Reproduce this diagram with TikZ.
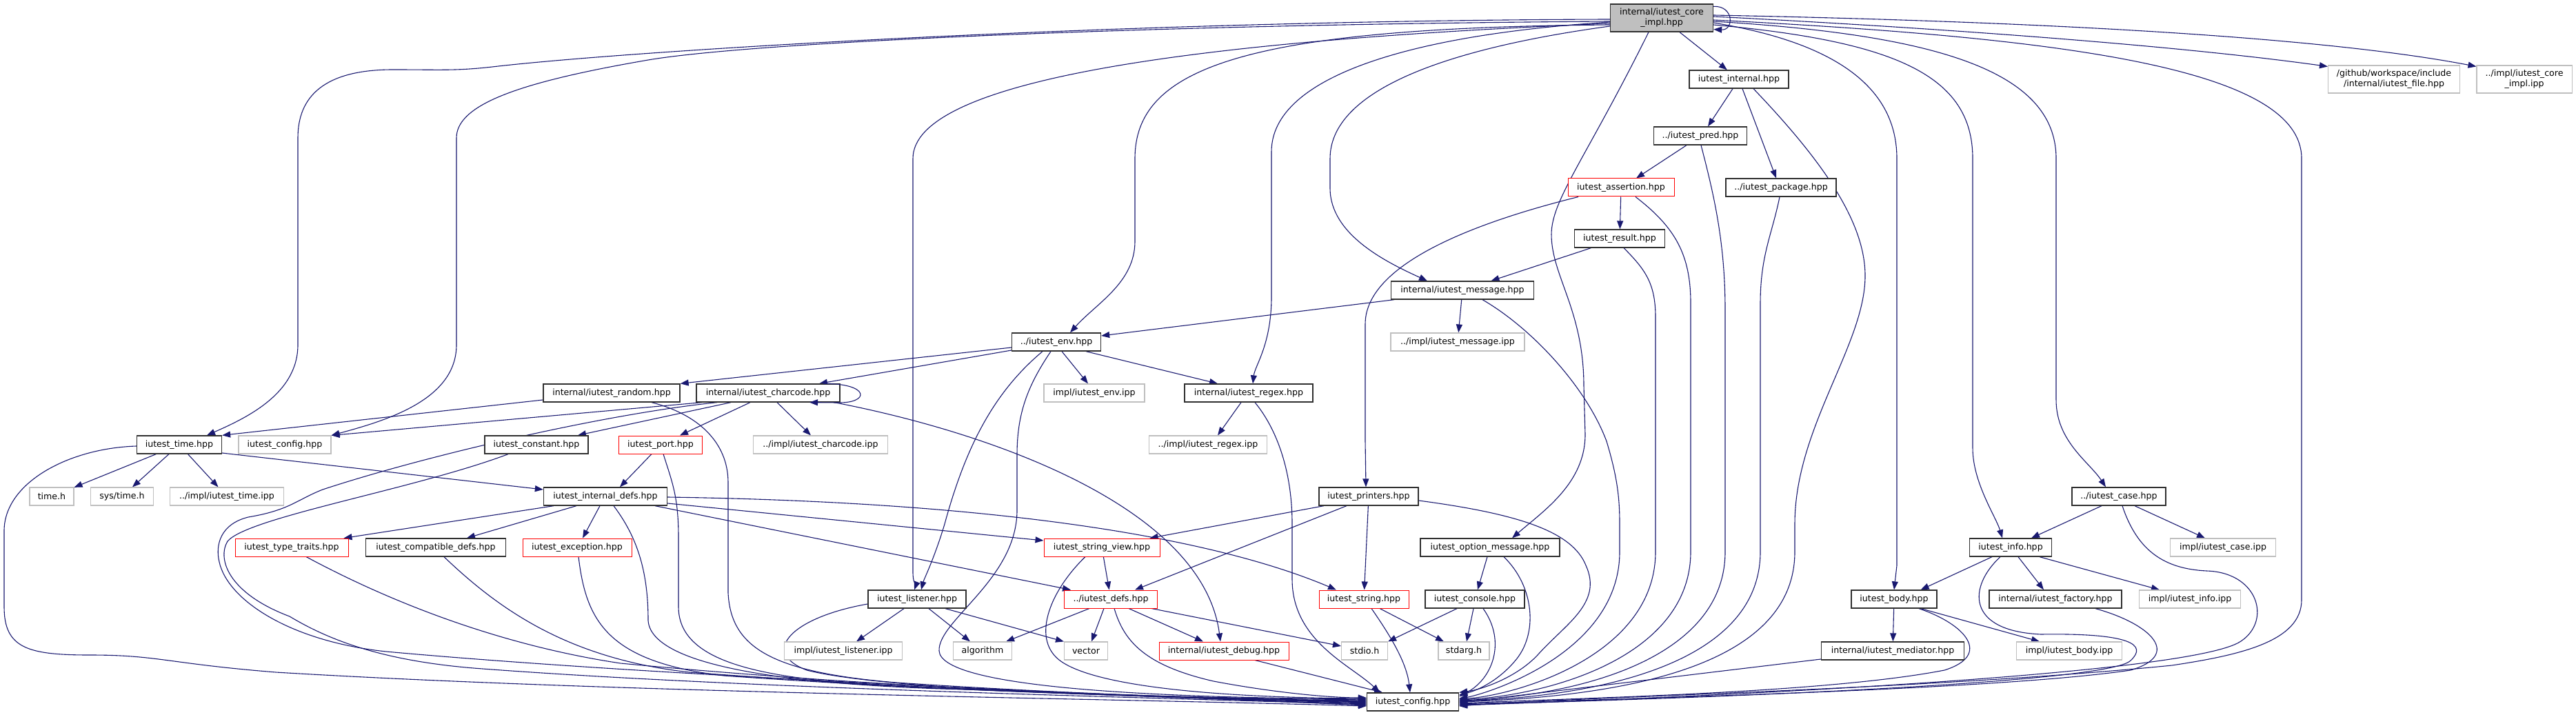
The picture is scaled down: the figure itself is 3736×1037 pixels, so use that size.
\documentclass[tikz,border=0pt]{standalone}
\usepackage{fontspec}
\newfontfamily\dv{DejaVu Sans}
\usetikzlibrary{arrows.meta,backgrounds}
\definecolor{edgeblue}{HTML}{191970}
\definecolor{dgray}{HTML}{303030}
\definecolor{lgray}{HTML}{BFBFBF}
\begin{document}
\begin{tikzpicture}[x=0.5pt,y=-0.5pt,
 nb/.style={draw=dgray,fill=white,line width=0.65pt,inner sep=0pt,minimum height=13pt,font=\dv\fontsize{6.3}{7.6}\selectfont},
 ng/.style={nb,draw=lgray,line width=0.55pt},
 nr/.style={nb,draw=red,line width=0.5pt},
 e/.style={draw=edgeblue,line width=0.55pt,-{Triangle[length=6pt,width=4.5pt]}}]
\useasboundingbox (0,0) rectangle (3736,1037);
% nodes
\node[nb,fill=lgray,minimum width=74.5pt,minimum height=20pt,align=center] (root) at (2410,26) {internal/iutest\_core\\\_impl.hpp};
\node[nb,minimum width=72pt] (internal) at (2522,115) {iutest\_internal.hpp};
\node[nb,minimum width=67.5pt] (pred) at (2466,197) {../iutest\_pred.hpp};
\node[nr,minimum width=77pt] (assertion) at (2351,272) {iutest\_assertion.hpp};
\node[nb,minimum width=80pt] (package) at (2583,272) {../iutest\_package.hpp};
\node[nb,minimum width=65.5pt] (result) at (2349,346) {iutest\_result.hpp};
\node[nb,minimum width=103.5pt] (message) at (2121,421) {internal/iutest\_message.hpp};
\node[ng,minimum width=97pt] (messageipp) at (2114,496) {../impl/iutest\_message.ipp};
\node[ng,minimum width=95.5pt,minimum height=20pt,align=center] (fileh) at (3472,115) {/github/workspace/include\\/internal/iutest\_file.hpp};
\node[ng,minimum width=69pt,minimum height=20pt,align=center] (coreipp) at (3661,115) {../impl/iutest\_core\\\_impl.ipp};
\node[nb,minimum width=64.5pt] (env) at (1532,496) {../iutest\_env.hpp};
\node[nb,minimum width=99pt] (random) at (887,570) {internal/iutest\_random.hpp};
\node[nb,minimum width=104pt] (charcode) at (1114,570) {internal/iutest\_charcode.hpp};
\node[ng,minimum width=73pt] (envipp) at (1587,570) {impl/iutest\_env.ipp};
\node[nb,minimum width=93pt] (regex) at (1811,570) {internal/iutest\_regex.hpp};
\node[nb,minimum width=61.5pt] (time) at (260,645) {iutest\_time.hpp};
\node[ng,minimum width=67pt] (configmid) at (413,645) {iutest\_config.hpp};
\node[nb,minimum width=75pt] (constant) at (778,645) {iutest\_constant.hpp};
\node[nr,minimum width=60.5pt] (port) at (958,645) {iutest\_port.hpp};
\node[ng,minimum width=97.5pt] (charcodeipp) at (1190,645) {../impl/iutest\_charcode.ipp};
\node[ng,minimum width=85.5pt] (regexipp) at (1752,645) {../impl/iutest\_regex.ipp};
\node[ng,minimum width=32pt] (timeh) at (75,720) {time.h};
\node[ng,minimum width=45.5pt] (systime) at (177,720) {sys/time.h};
\node[ng,minimum width=82.5pt] (timeipp) at (329,720) {../impl/iutest\_time.ipp};
\node[nb,minimum width=89.5pt] (idefs) at (878,720) {iutest\_internal\_defs.hpp};
\node[nb,minimum width=72pt] (printers) at (1985,720) {iutest\_printers.hpp};
\node[nb,minimum width=68pt] (case) at (3073,720) {../iutest\_case.hpp};
\node[nr,minimum width=82pt] (traits) at (423,794) {iutest\_type\_traits.hpp};
\node[nb,minimum width=101.5pt] (compat) at (632,794) {iutest\_compatible\_defs.hpp};
\node[nr,minimum width=79pt] (exception) at (837,794) {iutest\_exception.hpp};
\node[nr,minimum width=84pt] (strview) at (1598,794) {iutest\_string\_view.hpp};
\node[nb,minimum width=101pt] (optmsg) at (2161,794) {iutest\_option\_message.hpp};
\node[nb,minimum width=59.5pt] (info) at (2916,794) {iutest\_info.hpp};
\node[ng,minimum width=76.5pt] (caseipp) at (3224,794) {impl/iutest\_case.ipp};
\node[nb,minimum width=71pt] (listener) at (1330,869) {iutest\_listener.hpp};
\node[nr,minimum width=67.5pt] (defs) at (1611,869) {../iutest\_defs.hpp};
\node[nr,minimum width=65pt] (string) at (1978,869) {iutest\_string.hpp};
\node[nb,minimum width=72pt] (console) at (2139,869) {iutest\_console.hpp};
\node[nb,minimum width=62pt] (body) at (2747,869) {iutest\_body.hpp};
\node[nb,minimum width=96pt] (factory) at (2981,869) {internal/iutest\_factory.hpp};
\node[ng,minimum width=73.5pt] (infoipp) at (3176,869) {impl/iutest\_info.ipp};
\node[ng,minimum width=85.5pt] (listenipp) at (1223,944) {impl/iutest\_listener.ipp};
\node[ng,minimum width=42.5pt] (algorithm) at (1425,944) {algorithm};
\node[ng,minimum width=31.5pt] (vector) at (1575,944) {vector};
\node[nr,minimum width=94pt] (debug) at (1775,944) {internal/iutest\_debug.hpp};
\node[ng,minimum width=33.5pt] (stdio) at (1979,944) {stdio.h};
\node[ng,minimum width=37pt] (stdarg) at (2123,944) {stdarg.h};
\node[nb,minimum width=103.5pt] (mediator) at (2745,944) {internal/iutest\_mediator.hpp};
\node[ng,minimum width=76.5pt] (bodyipp) at (3001,944) {impl/iutest\_body.ipp};
\node[nb,minimum width=66.5pt] (config) at (2049,1018) {iutest\_config.hpp};

\begin{pgfonlayer}{background}
% root
\draw[e] (root) -- (internal);
\draw[e] ([yshift=-1pt]root.west) .. controls (1600,30) and (900,75) .. (714,97) .. controls (660,103) and (640,101) .. (570,101) .. controls (470,101) and (432,140) .. (432,200) -- (432,500) .. controls (432,570) and (360,605) .. ([xshift=20pt]time.north);
\draw[e] ([yshift=-2.5pt]root.west) .. controls (1700,35) and (1100,60) .. (940,87) .. controls (760,118) and (662,150) .. (662,200) -- (662,500) .. controls (662,580) and (560,610) .. (configmid.north east);
\draw[e] ([yshift=-4pt]root.west) .. controls (1700,60) and (1324,120) .. (1324,230) -- (1324,830) .. controls (1324,845) and (1328,850) .. ([xshift=-2pt]listener.north);
\draw[e] ([yshift=-5pt]root.west) .. controls (1800,40) and (1646,100) .. (1646,230) -- (1646,350) .. controls (1646,410) and (1590,440) .. ([xshift=10pt]env.north);
\draw[e] ([yshift=-3pt]root.west) .. controls (2050,50) and (1844,110) .. (1844,220) -- (1844,430) .. controls (1844,500) and (1820,530) .. ([xshift=3pt]regex.north);
\draw[e] ([yshift=-6pt]root.west) .. controls (2100,70) and (1929,130) .. (1929,230) -- (1929,273) .. controls (1929,340) and (2010,380) .. ([xshift=-25.5pt]message.north);
\draw[e] ([xshift=-9.5pt]root.south) .. controls (2300,230) and (2250,290) .. (2250,340) .. controls (2250,400) and (2297,450) .. (2297,560) -- (2299,630) .. controls (2299,700) and (2240,740) .. ([xshift=16pt]optmsg.north);
\draw[e] ([yshift=-3.5pt]root.east) .. controls (2650,60) and (2751,120) .. (2751,230) -- (2751,820) -- (body.north);
\draw[e] ([yshift=-5pt]root.east) .. controls (2750,60) and (2861,110) .. (2861,230) -- (2861,650) .. controls (2861,700) and (2895,750) .. ([xshift=-6pt]info.north);
\draw[e] ([yshift=-2.5pt]root.east) .. controls (2800,50) and (2982,100) .. (2982,230) -- (2982,580) .. controls (2982,640) and (3030,670) .. ([xshift=-9.5pt]case.north);
\draw[e] ([yshift=-1.5pt]root.east) .. controls (3000,55) and (3338,100) .. (3338,230) -- (3338,870) .. controls (3338,930) and (3250,950) .. (3150,965) .. controls (2800,1000) and (2300,1010) .. ([yshift=-3pt]config.east);
\draw[e] ([yshift=1pt]root.east) .. controls (2800,40) and (3150,65) .. ([yshift=-1pt]fileh.north west);
\draw[e] ([yshift=2pt]root.east) .. controls (2900,30) and (3350,50) .. ([yshift=-1pt]coreipp.north west);
% internal group
\draw[e] ([xshift=-4.5pt]internal.south) -- ([xshift=5.5pt]pred.north);
\draw[e] ([xshift=2.5pt]internal.south) -- ([xshift=-3.5pt]package.north);
\draw[e] ([xshift=10.5pt]internal.south) .. controls (2640,230) and (2705,320) .. (2705,400) .. controls (2705,500) and (2603,620) .. (2603,760) -- (2603,800) .. controls (2603,950) and (2403,1008) .. ([yshift=0pt]config.east);
\draw[e] ([xshift=-10pt]pred.south) -- ([xshift=11pt]assertion.north);
\draw[e] ([xshift=0.5pt]pred.south) .. controls (2485,280) and (2502,350) .. (2502,450) -- (2502,800) .. controls (2502,950) and (2302,1008) .. ([yshift=1pt]config.east);
\draw[e] (assertion) -- (result);
\draw[e] ([xshift=-31pt]assertion.south) .. controls (2150,320) and (1980,380) .. (1980,470) -- (1980,640) -- ([xshift=-2pt]printers.north);
\draw[e] ([xshift=10.5pt]assertion.south) .. controls (2430,330) and (2452,370) .. (2452,440) -- (2452,800) .. controls (2452,950) and (2252,1008) .. ([yshift=1.5pt]config.east);
\draw[e] ([xshift=-1pt]package.south) .. controls (2570,340) and (2553,370) .. (2553,440) -- (2553,800) .. controls (2553,950) and (2353,1008) .. ([yshift=0.5pt]config.east);
\draw[e] ([xshift=3pt]result.south) .. controls (2385,390) and (2401,410) .. (2401,460) -- (2401,800) .. controls (2401,950) and (2201,1008) .. ([yshift=2pt]config.east);
\draw[e] (result) -- (message);
% message
\draw[e] (message) -- (messageipp);
\draw[e] ([xshift=-49.5pt]message.south) -- ([yshift=4.5pt]env.east);
\draw[e] ([xshift=14.5pt]message.south) .. controls (2220,475) and (2300,560) .. (2330,640) .. controls (2345,690) and (2349,720) .. (2349,760) -- (2349,800) .. controls (2349,950) and (2149,1008) .. ([yshift=2.5pt]config.east);
% env
\draw[e] ([yshift=-4pt]env.west) -- (random.north east);
\draw[e] ([yshift=-6pt]env.west) -- ([xshift=37pt]charcode.north);
\draw[e] ([xshift=4pt]env.south) -- ([xshift=-4.5pt]envipp.north);
\draw[e] ([xshift=21.5pt]env.south) -- ([xshift=-22.5pt]regex.north);
\draw[e] ([xshift=-10pt]env.south) .. controls (1440,570) and (1400,650) .. (1370,760) .. controls (1355,810) and (1340,840) .. ([xshift=3pt]listener.north);
\draw[e] ([xshift=-4pt]env.south) .. controls (1490,560) and (1475,600) .. (1475,660) -- (1475,740) .. controls (1475,840) and (1360,900) .. (1362,944) .. controls (1365,1000) and (1700,1012) .. ([yshift=2pt]config.west);
% random
\draw[e] ([yshift=-5pt]random.west) -- (time.north east);
\draw[e] ([xshift=29pt]random.south) .. controls (1010,600) and (1056,640) .. (1056,700) -- (1056,860) .. controls (1060,940) and (1120,975) .. (1300,990) .. controls (1600,1010) and (1850,1015) .. ([yshift=0.5pt]config.west);
% charcode
\draw[e] ([xshift=-48pt]charcode.south) -- (configmid.north east);
\draw[e] ([xshift=-37pt]charcode.south) .. controls (880,600) and (620,660) .. (468,710) .. controls (430,725) and (420,740) .. (360,750) .. controls (320,760) and (312,790) .. (318,815) .. controls (330,870) and (420,930) .. (560,945) .. controls (1000,985) and (1700,1010) .. ([yshift=-2.5pt]config.west);
\draw[e] ([xshift=-27pt]charcode.south) -- ([xshift=30pt]constant.north);
\draw[e] ([xshift=-13pt]charcode.south) -- ([xshift=14pt]port.north);
\draw[e] ([xshift=6.5pt]charcode.south) -- ([xshift=-7pt]charcodeipp.north);
\draw[e] ([xshift=48pt]charcode.south) .. controls (1450,630) and (1745,740) .. ([xshift=-2.5pt]debug.north);
% constant, port
\draw[e] ([xshift=-20.5pt]constant.south) .. controls (600,710) and (360,750) .. (330,785) .. controls (315,810) and (330,860) .. (420,894) .. controls (480,930) and (560,960) .. (700,970) .. controls (1100,1000) and (1700,1012) .. ([yshift=-2pt]config.west);
\draw[e] ([xshift=-6.5pt]port.south) -- ([xshift=10.5pt]idefs.north);
\draw[e] ([xshift=2pt]port.south) .. controls (975,700) and (984,720) .. (984,780) -- (984,880) .. controls (984,960) and (1100,985) .. (1300,995) .. controls (1600,1010) and (1850,1015) .. ([yshift=1pt]config.west);
% time
\draw[e] (time) -- (timeh);
\draw[e] (time) -- (systime);
\draw[e] (time) -- (timeipp);
\draw[e] ([yshift=-6pt]time.east) -- ([yshift=5pt]idefs.west);
\draw[e] ([yshift=-1pt]time.west) .. controls (100,650) and (6,700) .. (6,770) -- (6,880) .. controls (6,940) and (40,950) .. (130,950) .. controls (230,950) and (240,962) .. (400,975) .. controls (900,1005) and (1600,1013) .. ([yshift=-3pt]config.west);
% idefs
\draw[e] ([xshift=-37.5pt]idefs.south) -- ([xshift=-3.5pt]traits.north east);
\draw[e] ([xshift=-21pt]idefs.south) -- ([xshift=22.5pt]compat.north);
\draw[e] ([xshift=-4pt]idefs.south) -- ([xshift=4pt]exception.north);
\draw[e] ([xshift=6pt]idefs.south) .. controls (925,780) and (940,830) .. (940,900) .. controls (945,975) and (1200,995) .. (1400,1000) .. controls (1700,1010) and (1850,1015) .. ([yshift=0pt]config.west);
\draw[e] ([yshift=-5pt]idefs.east) -- ([yshift=5pt]strview.west);
\draw[e] ([xshift=36pt]idefs.south) -- ([xshift=-29pt]defs.north);
\draw[e] ([yshift=-0.5pt]idefs.east) .. controls (1450,728) and (1760,780) .. ([xshift=-20pt]string.north);
\draw[e] ([xshift=10.5pt]traits.south) .. controls (560,870) and (720,935) .. (900,962) .. controls (1300,1000) and (1700,1012) .. ([yshift=-1.5pt]config.west);
\draw[e] ([xshift=6pt]compat.south) .. controls (720,880) and (820,955) .. (1000,975) .. controls (1400,1005) and (1750,1012) .. ([yshift=-1pt]config.west);
\draw[e] ([xshift=1pt]exception.south) .. controls (850,900) and (880,960) .. (1050,980) .. controls (1400,1005) and (1750,1012) .. ([yshift=-0.5pt]config.west);
% strview
\draw[e] (strview) -- (defs);
\draw[e] ([xshift=-12pt]strview.south) .. controls (1520,860) and (1495,930) .. (1540,960) .. controls (1600,1000) and (1800,1012) .. ([yshift=2.5pt]config.west);
% listener
\draw[e] ([xshift=-9.5pt]listener.south) -- ([xshift=9.5pt]listenipp.north);
\draw[e] ([xshift=8.5pt]listener.south) -- ([xshift=-9pt]algorithm.north);
\draw[e] ([xshift=20.5pt]listener.south) -- (vector.north west);
\draw[e] ([yshift=-3.5pt]listener.west) .. controls (1150,895) and (1100,945) .. (1170,972) .. controls (1300,1005) and (1750,1012) .. ([yshift=1.5pt]config.west);
% defs
\draw[e] ([xshift=-15.5pt]defs.south) -- ([xshift=-4.5pt]algorithm.north east);
\draw[e] ([xshift=-5pt]defs.south) -- ([xshift=4pt]vector.north);
\draw[e] ([xshift=13pt]defs.south) -- ([xshift=-15pt]debug.north);
\draw[e] ([xshift=29.5pt]defs.south) -- ([yshift=3.5pt]stdio.west);
\draw[e] ([xshift=2.5pt]defs.south) .. controls (1630,930) and (1660,965) .. (1760,988) .. controls (1850,1005) and (1930,1012) .. ([yshift=3pt]config.west);
\draw[e] ([xshift=22.5pt]debug.south) -- ([xshift=-22pt]config.north);
% regex
\draw[e] ([xshift=-5.5pt]regex.south) -- ([xshift=7pt]regexipp.north);
\draw[e] ([xshift=4.5pt]regex.south) .. controls (1850,620) and (1874,680) .. (1874,760) -- (1874,840) .. controls (1874,930) and (1960,965) .. ([xshift=-24pt]config.north);
% printers
\draw[e] ([xshift=-32.5pt]printers.south) -- ([xshift=-7.5pt]strview.north east);
\draw[e] ([xshift=-16pt]printers.south) -- ([xshift=17.5pt]defs.north);
\draw[e] (printers) -- (string);
\draw[e] ([yshift=-3pt]printers.east) .. controls (2200,745) and (2280,770) .. (2300,820) .. controls (2325,875) and (2270,905) .. (2230,950) .. controls (2200,982) and (2150,1000) .. (config.north east);
% string
\draw[e] ([xshift=5.5pt]string.south) .. controls (2015,920) and (2040,960) .. ([xshift=-2pt]config.north);
\draw[e] ([xshift=11.5pt]string.south) -- ([xshift=-14.5pt]stdarg.north);
% option message, console
\draw[e] (optmsg) -- (console);
\draw[e] ([xshift=10pt]optmsg.south) .. controls (2225,850) and (2232,920) .. (2196,960) .. controls (2170,990) and (2140,1002) .. ([yshift=5pt]config.east);
\draw[e] ([xshift=-13pt]console.south) -- (stdio.north east);
\draw[e] ([xshift=-1pt]console.south) -- ([xshift=2pt]stdarg.north);
\draw[e] ([xshift=6pt]console.south) .. controls (2185,930) and (2165,985) .. ([yshift=4pt]config.east);
% body, info, case
\draw[e] (body) -- (mediator);
\draw[e] ([xshift=19.5pt]body.south) -- ([xshift=-21.5pt]bodyipp.north);
\draw[e] ([xshift=18pt]body.south) .. controls (2850,905) and (2890,950) .. (2820,972) .. controls (2650,1005) and (2300,1012) .. ([yshift=-1pt]config.east);
\draw[e] ([xshift=-13.5pt]info.south) -- ([xshift=-12pt]body.north east);
\draw[e] ([xshift=5.5pt]info.south) -- ([xshift=-8.5pt]factory.north);
\draw[e] ([xshift=21pt]info.south) -- ([xshift=-22pt]infoipp.north);
\draw[e] ([xshift=-7.5pt]info.south) .. controls (2855,850) and (2850,915) .. (2960,920) .. controls (3090,918) and (3115,935) .. (3090,958) .. controls (3060,990) and (2500,1012) .. ([yshift=-2pt]config.east);
\draw[e] ([xshift=-12.5pt]case.south) -- ([xshift=15pt]info.north);
\draw[e] ([xshift=11.5pt]case.south) -- ([xshift=-13pt]caseipp.north);
\draw[e] ([xshift=2.5pt]case.south) .. controls (3100,800) and (3140,825) .. (3200,828) .. controls (3275,830) and (3295,900) .. (3250,930) .. controls (3180,978) and (2500,1010) .. ([yshift=-2.5pt]config.east);
\draw[e] ([xshift=29pt]factory.south) .. controls (3120,905) and (3165,950) .. (3090,972) .. controls (2900,1000) and (2400,1012) .. ([yshift=-1.5pt]config.east);
\draw[e] ([yshift=-6pt]mediator.west) -- ([yshift=-0.5pt]config.east);
\end{pgfonlayer}
% self loops on top
\draw[e] ([yshift=-2pt]root.north east) .. controls (2515,8) and (2515,44) .. ([yshift=2pt]root.south east);
\draw[e] ([xshift=40pt]charcode.north) .. controls (1262,556) and (1262,585) .. (1215,584) -- ([xshift=30pt]charcode.south);
\end{tikzpicture}
\end{document}
